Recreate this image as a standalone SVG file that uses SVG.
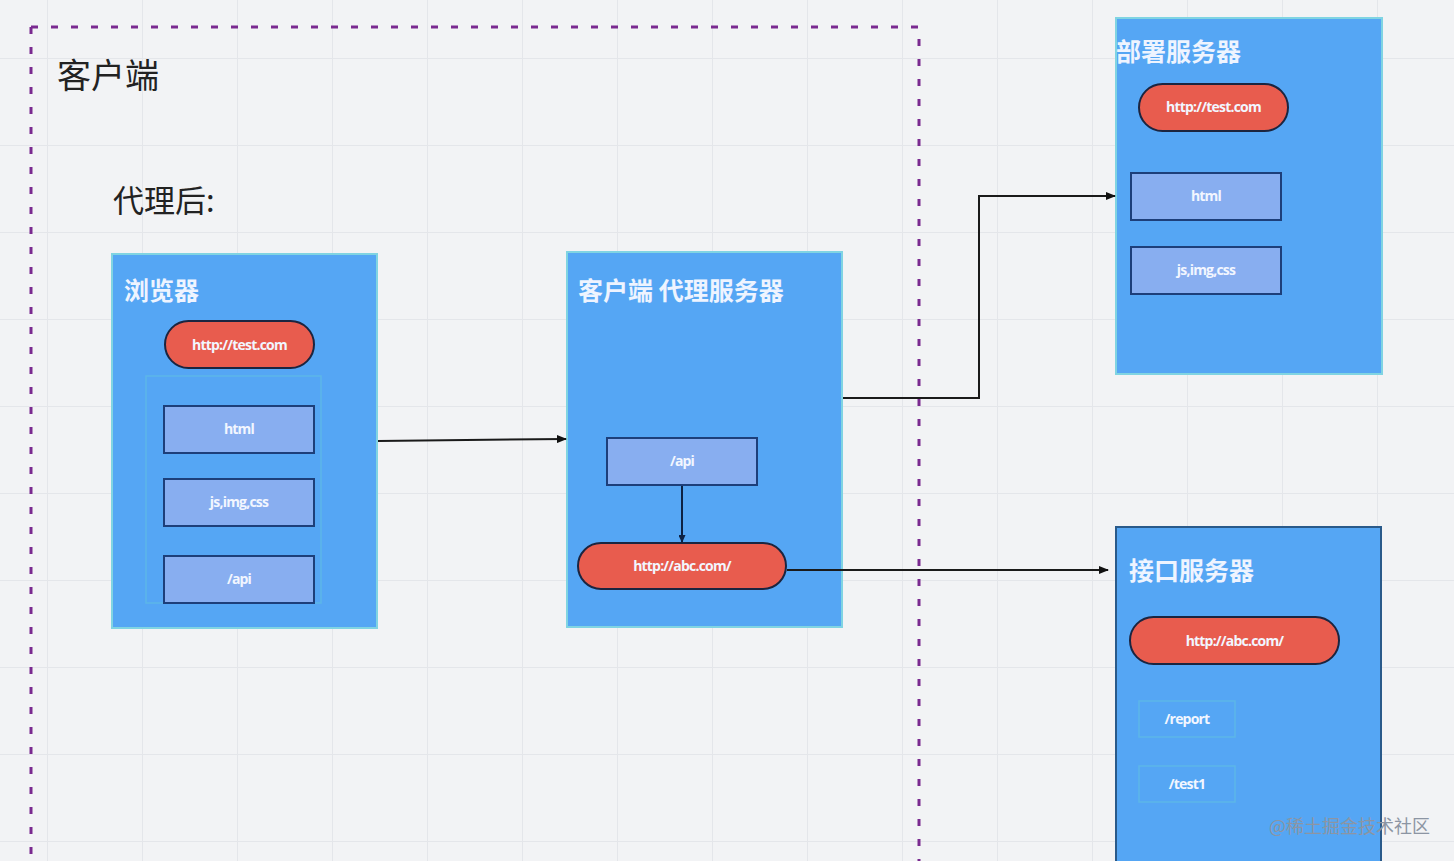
<svg xmlns="http://www.w3.org/2000/svg" width="1454" height="861" viewBox="0 0 1454 861">
<defs>
<pattern id="grid" x="47" y="58" width="95" height="87" patternUnits="userSpaceOnUse">
<path d="M0 0V87M0 0H95" fill="none" stroke="#e4e6ea" stroke-width="2"/>
</pattern>
<marker id="ah" markerWidth="10" markerHeight="8" refX="9" refY="4" orient="auto" markerUnits="userSpaceOnUse">
<path d="M0 0L10 4L0 8Z" fill="#111"/>
</marker>
<marker id="ahs" markerWidth="8" markerHeight="7" refX="7" refY="3.5" orient="auto" markerUnits="userSpaceOnUse">
<path d="M0 0L8 3.5L0 7Z" fill="#0d2244"/>
</marker>
</defs>
<style>
.box{fill:#55a6f4;stroke:#80d4e2;stroke-width:2}
.pill{fill:#e85c4e;stroke:#1b2540;stroke-width:2}
.item{fill:#88aef0;stroke:#1d3f7a;stroke-width:2}
.faint{fill:none;stroke:#5cb6e8;stroke-width:1.5}
.title{font-family:"Noto Sans CJK SC","Noto Sans",sans-serif;font-weight:bold;font-size:25px;fill:#eef4ff}
.lbl{font-family:"Open Sans","Noto Sans",sans-serif;font-weight:bold;font-size:14px;fill:#f2f6ff;text-anchor:middle;letter-spacing:-0.8px}
.big{font-family:"Noto Sans CJK SC",sans-serif;fill:#222}
.conn{fill:none;stroke:#1a1a1a;stroke-width:2}
</style>
<rect width="1454" height="861" fill="#f2f3f5"/>
<rect width="1454" height="861" fill="url(#grid)"/>

<g id="client-area">
<path d="M31 27H919V861M31 27V861" fill="none" stroke="#7a2a90" stroke-width="3" stroke-dasharray="7 13"/>
<text x="57" y="88" class="big" font-size="34">客户端</text>
<text x="113" y="212" class="big" font-size="31">代理后:</text>
</g>

<g id="browser">
<rect x="112" y="254" width="265" height="374" class="box"/>
<text x="124" y="300" class="title">浏览器</text>
<rect x="165" y="321" width="149" height="47" rx="23.5" class="pill"/>
<text x="239.5" y="350" class="lbl">http://test.com</text>
<rect x="146" y="376" width="175" height="227" class="faint"/>
<rect x="164" y="406" width="150" height="47" class="item"/>
<text x="239" y="434" class="lbl">html</text>
<rect x="164" y="479" width="150" height="47" class="item"/>
<text x="239" y="507" class="lbl">js,img,css</text>
<rect x="164" y="556" width="150" height="47" class="item"/>
<text x="239" y="584" class="lbl">/api</text>
</g>

<g id="proxy">
<rect x="567" y="252" width="275" height="375" class="box"/>
<text x="578" y="300" class="title">客户端 代理服务器</text>
<rect x="607" y="438" width="150" height="47" class="item"/>
<text x="682" y="466" class="lbl">/api</text>
<rect x="578" y="543" width="208" height="46" rx="23" class="pill"/>
<text x="682" y="571" class="lbl">http://abc.com/</text>
</g>

<g id="deploy-server">
<rect x="1116" y="18" width="266" height="356" class="box"/>
<text x="1116" y="61" class="title">部署服务器</text>
<rect x="1139" y="84" width="149" height="47" rx="23.5" class="pill"/>
<text x="1213.5" y="112" class="lbl">http://test.com</text>
<rect x="1131" y="173" width="150" height="47" class="item"/>
<text x="1206" y="201" class="lbl">html</text>
<rect x="1131" y="247" width="150" height="47" class="item"/>
<text x="1206" y="275" class="lbl">js,img,css</text>
</g>

<g id="api-server">
<rect x="1116" y="527" width="265" height="340" class="box" style="stroke:#2a5a8a"/>
<text x="1129" y="580" class="title">接口服务器</text>
<rect x="1130" y="617" width="209" height="47" rx="23.5" class="pill"/>
<text x="1234.5" y="646" class="lbl">http://abc.com/</text>
<rect x="1139" y="701" width="96" height="36" class="faint"/>
<text x="1187" y="724" class="lbl">/report</text>
<rect x="1139" y="766" width="96" height="36" class="faint"/>
<text x="1187" y="789" class="lbl">/test1</text>
</g>

<g id="connectors">
<path d="M378 441L566 439" class="conn" marker-end="url(#ah)"/>
<path d="M843 398H979V196H1115" class="conn" marker-end="url(#ah)"/>
<path d="M787 570H1108" class="conn" marker-end="url(#ah)"/>
<path d="M682 486V542" fill="none" stroke="#0d2244" stroke-width="2" marker-end="url(#ahs)"/>
</g>

<text x="1269" y="833" font-family="Noto Sans CJK SC,sans-serif" font-size="18" fill="#8c95a3">@稀土掘金技术社区</text>
</svg>
